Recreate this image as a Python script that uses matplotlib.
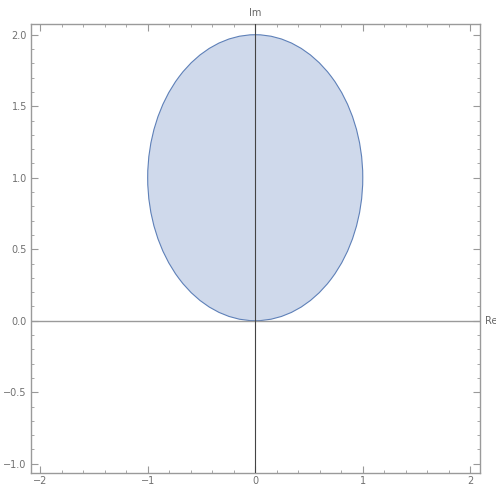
import matplotlib
matplotlib.use("Agg")
import matplotlib.pyplot as plt
from matplotlib.patches import Circle
from matplotlib.ticker import MultipleLocator, FixedLocator

# Data
center = (0.0, 1.0)
radius = 1.0
x_ticks = [-2, -1, 0, 1, 2]
x_ticklabels = ["\u22122", "\u22121", "0", "1", "2"]
y_ticks = [-1.0, -0.5, 0.0, 0.5, 1.0, 1.5, 2.0]
y_ticklabels = ["\u22121.0", "\u22120.5", "0.0", "0.5", "1.0", "1.5", "2.0"]
xlim = (-2.085, 2.09)
ylim = (-1.065, 2.075)

fig = plt.figure(figsize=(4.96, 4.84), dpi=100)
ax = fig.add_axes([31/496, 1-473/484, (480-31)/496, (473-24)/484])

circ = Circle(center, radius, facecolor=(0.81, 0.85, 0.92), edgecolor=(0.37, 0.50, 0.72),
              linewidth=0.8, zorder=2)
ax.add_patch(circ)

ax.axhline(0, color="#9a9a9a", linewidth=1.0, zorder=3)
ax.axvline(0, color="#444444", linewidth=0.8, zorder=3)

ax.set_xlim(*xlim)
ax.set_ylim(*ylim)

ax.xaxis.set_major_locator(FixedLocator(x_ticks))
ax.set_xticklabels(x_ticklabels)
ax.yaxis.set_major_locator(FixedLocator(y_ticks))
ax.set_yticklabels(y_ticklabels)
ax.xaxis.set_minor_locator(MultipleLocator(0.2))
ax.yaxis.set_minor_locator(MultipleLocator(0.1))

ax.tick_params(which="both", direction="in", top=True, right=True, color="#999999",
               labelcolor="#707070", labelsize=7)
ax.tick_params(which="major", length=5, width=0.8, pad=3)
ax.tick_params(which="minor", length=2.5, width=0.6)
ax.tick_params(axis="x", labeltop=False, pad=2)
ax.tick_params(axis="y", labelright=False)

for s in ax.spines.values():
    s.set_color("#9a9a9a")
    s.set_linewidth(1.0)

ax.text(0, ylim[1] + 0.04, "Im", ha="center", va="bottom", fontsize=7, color="#666666")
ax.text(xlim[1] + 0.05, 0, "Re", ha="left", va="center", fontsize=7, color="#666666",
        clip_on=False)

fig.savefig("out.png", dpi=100)
